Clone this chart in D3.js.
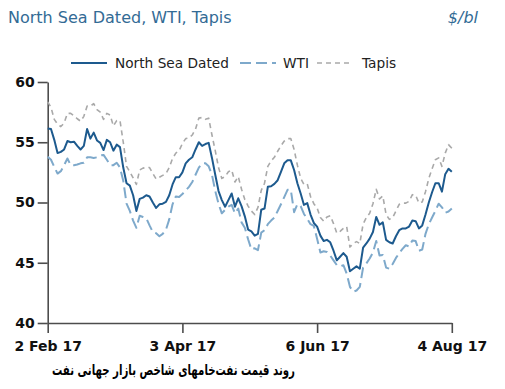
<!DOCTYPE html>
<html>
<head>
<meta charset="utf-8">
<script src="https://cdn.jsdelivr.net/npm/d3@7"></script>
<style>
  body { margin: 0; background: #fff; }
  svg { display: block; font-family: "DejaVu Sans", Verdana, sans-serif; }
</style>
</head>
<body>
<svg id="chart" width="505" height="389"></svg>
<script>
// daily prices, $/bl, 2 Feb 17 .. 4 Aug 17 (trading days)
const northSea = [56.15, 56.1, 55.2, 54.1, 54.2, 54.4, 55.1, 55.0, 55.05, 54.7,
  54.4, 54.7, 56.1, 55.3, 55.8, 55.15, 54.95, 54.35, 55.2, 55.0,
  54.3, 54.8, 54.6, 52.9, 51.6, 51.4, 50.6, 49.3, 50.3, 50.4,
  50.6, 50.5, 50.0, 49.55, 49.85, 49.9, 50.05, 50.6, 51.5, 52.1,
  52.1, 52.5, 53.25, 53.55, 53.75, 54.4, 55.0, 54.7, 54.85, 54.95,
  53.7, 52.3, 50.95, 50.2, 49.65, 50.2, 50.75, 49.65, 50.35, 49.7,
  48.85, 47.75, 47.6, 47.25, 47.4, 49.4, 49.5, 51.3, 51.35, 51.55,
  51.85, 52.55, 53.25, 53.5, 53.5, 52.7, 51.6, 50.75, 49.8, 49.95,
  49.0, 48.3, 48.0, 47.25, 46.8, 46.9, 46.7, 46.0, 45.2, 45.5,
  45.8, 45.5, 44.3, 44.5, 44.7, 44.5, 46.25, 46.6, 47.0, 47.55,
  48.8, 48.15, 48.35, 46.9, 46.7, 46.6, 47.2, 47.7, 47.85, 47.85,
  48.0, 48.5, 48.45, 47.85, 48.1, 49.0, 50.0, 50.85, 51.6, 51.6,
  50.9, 52.35, 52.8, 52.55];

const wti = [53.8, 53.55, 52.95, 52.4, 52.6, 53.1, 53.65, 53.1, 53.1, 53.15,
  53.25, 53.3, 53.75, 53.75, 53.7, 53.75, 53.9, 53.95, 53.55, 53.1,
  53.1, 53.3, 52.9, 51.8, 49.9, 49.3, 48.5, 47.9, 48.9, 48.8,
  48.7, 48.1, 47.55, 47.45, 47.2, 47.4, 47.75, 48.6, 49.85, 50.5,
  50.45, 50.7, 51.0, 51.3, 51.7, 52.3, 52.9, 53.25, 53.25, 53.0,
  52.3, 50.95, 49.9, 49.1, 49.4, 49.65, 49.8, 49.1, 49.5, 48.35,
  47.9, 46.95, 46.1, 46.2, 46.05, 47.5, 47.7, 48.2, 48.5, 48.75,
  49.3, 49.85, 50.45, 51.05, 51.05, 49.2, 49.85, 49.7, 49.05, 48.65,
  48.2, 48.05, 47.0, 45.85, 45.95, 45.9, 45.6, 45.2, 44.8, 44.7,
  44.8, 44.1, 43.0, 42.6, 42.7, 43.0, 44.6, 44.95, 45.35, 45.85,
  46.8, 45.6, 45.65, 44.6, 44.5, 44.9, 45.4, 45.8, 46.15, 46.45,
  46.35, 46.85, 46.8, 46.0, 46.1, 47.4, 48.2, 48.75, 49.3, 49.9,
  49.6, 49.15, 49.25, 49.5];

const tapis = [58.35, 57.9, 56.9, 56.5, 56.3, 56.6, 57.4, 57.4, 57.2, 56.95,
  56.75, 57.15, 58.0, 58.0, 58.2, 57.7, 57.5, 56.9, 57.4, 57.25,
  56.35, 56.8, 56.8, 55.0, 53.0, 52.55, 52.05, 51.5, 52.7, 52.85,
  52.9, 52.9, 52.4, 51.95, 52.1, 52.25, 52.4, 52.9, 53.65, 54.1,
  54.3, 54.9, 55.3, 55.35, 55.6, 56.1, 57.0, 57.05, 56.9, 57.0,
  55.6, 54.3, 52.9, 52.0, 52.15, 52.55, 52.7, 51.7, 52.15, 51.1,
  50.25, 49.7, 49.3, 49.0, 49.6, 51.0, 51.6, 53.0, 53.45, 53.75,
  54.25, 54.7, 55.1, 55.3, 55.3, 54.4, 53.1, 52.0, 51.5, 51.55,
  50.5, 49.9, 49.55, 48.75, 48.45, 48.8, 48.9, 48.25, 47.45, 47.6,
  47.85, 48.0, 46.3, 46.6, 46.75, 46.6, 48.2, 48.75, 49.1, 49.9,
  51.1, 50.3, 50.55, 49.0, 48.6, 48.75, 49.3, 49.85, 49.95, 49.95,
  50.1, 50.65, 50.6, 49.95, 50.05, 50.9, 52.0, 52.8, 53.55, 53.7,
  53.0, 54.1, 54.8, 54.5];

const xTickIndex = [0, 41, 82, 123];
const xTickLabels = ["2 Feb 17", "3 Apr 17", "6 Jun 17", "4 Aug 17"];
const yTicks = [40, 45, 50, 55, 60];

const seriesNames = ["North Sea Dated", "WTI", "Tapis"];
const seriesColors = ["#1d5a8e", "#7ea9cb", "#a9a9a9"];
const seriesDash = [null, "11,5", "5,4"];
const seriesWidth = [2, 2, 1.6];
const seriesData = [northSea, wti, tapis];

const svg = d3.select("#chart");

const x = d3.scaleLinear()
    .domain([0, northSea.length - 1])
    .range([47.7, 451.8]);
const y = d3.scaleLinear()
    .domain([40, 60])
    .range([323, 82]);

// title
svg.append("text")
    .attr("x", 8)
    .attr("y", 23)
    .attr("fill", "#336b95")
    .style("font-size", "16px")
    .text("North Sea Dated, WTI, Tapis");

svg.append("text")
    .attr("x", 478)
    .attr("y", 23)
    .attr("text-anchor", "end")
    .attr("fill", "#336b95")
    .style("font-size", "16px")
    .style("font-style", "italic")
    .text("$/bl");

// legend
const legendItems = [
    { x1: 71, x2: 107, tx: 115 },
    { x1: 240, x2: 276, tx: 283 },
    { x1: 317, x2: 353, tx: 362 }
];
const legend = svg.append("g");
legendItems.forEach((d, i) => {
    legend.append("line")
        .attr("x1", d.x1).attr("x2", d.x2)
        .attr("y1", 63).attr("y2", 63)
        .attr("stroke", seriesColors[i])
        .attr("stroke-width", seriesWidth[i])
        .attr("stroke-dasharray", seriesDash[i]);
    legend.append("text")
        .attr("x", d.tx)
        .attr("y", 68)
        .attr("fill", "#222")
        .style("font-size", "13.7px")
        .text(seriesNames[i]);
});

// axes
const yAxis = svg.append("g")
    .attr("transform", "translate(47.7,0)")
    .call(d3.axisLeft(y).tickValues(yTicks).tickSize(10).tickSizeOuter(0).tickPadding(3));

const xAxis = svg.append("g")
    .attr("transform", "translate(0,323)")
    .call(d3.axisBottom(x).tickValues(xTickIndex).tickSize(10).tickSizeOuter(0).tickPadding(8)
        .tickFormat((d, i) => xTickLabels[i]));

[yAxis, xAxis].forEach(ax => {
    ax.select(".domain").attr("stroke", "#4d4d4d").attr("stroke-width", 1.6);
    ax.selectAll(".tick line").attr("stroke", "#4d4d4d").attr("stroke-width", 1.6);
    ax.selectAll(".tick text")
        .attr("fill", "#111")
        .style("font-size", "14px")
        .style("font-weight", "bold")
        .style("font-family", "'DejaVu Sans', sans-serif");
});

// lines
const line = d3.line()
    .x((d, i) => x(i))
    .y(d => y(d));

// draw tapis, wti, then north sea on top
[2, 1, 0].forEach(i => {
    svg.append("path")
        .datum(seriesData[i])
        .attr("fill", "none")
        .attr("stroke", seriesColors[i])
        .attr("stroke-width", seriesWidth[i])
        .attr("stroke-dasharray", seriesDash[i])
        .attr("stroke-linejoin", "round")
        .attr("d", line);
});

// caption (right-to-left)
svg.append("text")
    .attr("x", 295)
    .attr("y", 375)
    .attr("direction", "rtl")
    .attr("text-anchor", "start")
    .attr("fill", "#000")
    .attr("textLength", 243)
    .attr("lengthAdjust", "spacingAndGlyphs")
    .style("font-size", "15px")
    .style("font-weight", "bold")
    .text("روند قیمت نفت‌خامهای شاخص بازار جهانی نفت");
</script>
</body>
</html>
